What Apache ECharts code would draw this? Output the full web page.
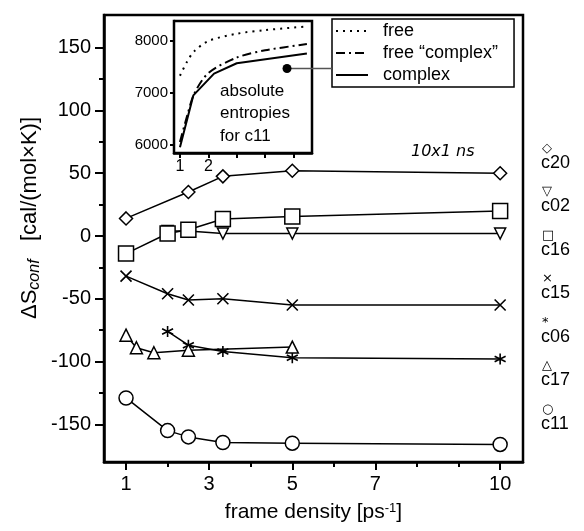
<!DOCTYPE html>
<html>
<head>
<meta charset="utf-8">
<script src="https://cdn.jsdelivr.net/npm/echarts@6/dist/echarts.min.js"></script>
<style>
html,body{margin:0;padding:0;background:#fff;}
#chart{width:584px;height:531px;}
</style>
</head>
<body>
<div id="chart"></div>
<script>
// ---- main plot data (frame density [ps^-1] vs ΔS_conf) ----
const c20X = [1, 2.5, 3.33, 5, 10];
const c20Y = [14, 35, 47.5, 52, 50];
const c02X = [2, 2.5, 3.33, 5, 10];
const c02Y = [4, 4, 2, 2, 2];
const c16X = [1, 2, 2.5, 3.33, 5, 10];
const c16Y = [-14, 2, 5, 13.5, 15.5, 20];
const c15X = [1, 2, 2.5, 3.33, 5, 10];
const c15Y = [-32, -46, -51, -50, -55, -55];
const c06X = [2, 2.5, 3.33, 5, 10];
const c06Y = [-76, -87, -92, -97, -98];
const c17X = [1, 1.25, 1.67, 2.5, 5];
const c17Y = [-79, -89, -93, -91, -88.5];
const c11X = [1, 2, 2.5, 3.33, 5, 10];
const c11Y = [-129, -155, -160, -164.5, -165, -166];

const xTickLabels = [1, 3, 5, 7, 10];
const xMinorTicks = [2, 4, 6, 8, 9];
const yTickLabels = [-150, -100, -50, 0, 50, 100, 150];
const yMinorTicks = [-125, -75, -25, 25, 75, 125];

// ---- inset: absolute entropies for c11 ----
const freeX = [1, 1.25, 1.5, 2, 3, 4, 5.47];
const freeY = [7330, 7600, 7800, 8000, 8140, 8210, 8280];
const freeCplxX = [1, 1.25, 1.5, 2, 3, 4, 5.47];
const freeCplxY = [6050, 6550, 6980, 7380, 7680, 7820, 7940];
const cplxX = [1, 1.47, 2.2, 3, 5.47];
const cplxY = [5950, 6950, 7370, 7570, 7760];
const insetYTicks = [6000, 7000, 8000];
const insetXTicks = [1, 2, 3, 4, 5];
const insetXLabels = [1, 2];

const seriesNames = ['c20', 'c02', 'c16', 'c15', 'c06', 'c17', 'c11'];
const seriesGlyphs = ['◇', '▽', '□', '×', '*', '△', '○'];

function pairs(xs, ys) { return xs.map((x, i) => [x, ys[i]]); }

const FONT = '"Liberation Sans", Arial, Helvetica, sans-serif';
const crossPath = 'path://M0,0L10,10M0,10L10,0';
const starPath = 'path://M5,0L5,10M0.67,2.5L9.33,7.5M0.67,7.5L9.33,2.5';

function mainSeries(name, xs, ys, symbol, size, rotate) {
  return {
    name: name, type: 'line', xAxisIndex: 0, yAxisIndex: 0,
    data: pairs(xs, ys), symbol: symbol, symbolSize: size, symbolRotate: rotate || 0,
    showAllSymbol: true, z: 3,
    lineStyle: { color: '#000', width: 1.5 },
    itemStyle: { color: '#fff', borderColor: '#000', borderWidth: 1.5 },
    emphasis: { disabled: true }, animation: false
  };
}
function lineOnly(series) {
  series.itemStyle = { color: 'transparent', borderColor: '#000', borderWidth: 1.6 };
  return series;
}

const chart = echarts.init(document.getElementById('chart'), null, { renderer: 'canvas' });

const option = {
  animation: false,
  backgroundColor: '#fff',
  textStyle: { fontFamily: FONT },
  grid: [
    { left: 104, right: 61, top: 15, bottom: 69, show: true, borderColor: '#000', borderWidth: 2.5, backgroundColor: 'transparent' },
    { left: 174, top: 21, width: 138, height: 132, show: true, borderColor: '#000', borderWidth: 2.5, backgroundColor: '#fff', z: 5 }
  ],
  xAxis: [
    { gridIndex: 0, type: 'value', min: 0.47, max: 10.55,
      name: '{a|frame density [ps}{s|-1}{a|]}', nameLocation: 'middle', nameGap: 40,
      nameTextStyle: { rich: { a: { fontSize: 21, fontFamily: FONT, color: '#000' }, s: { fontSize: 13, fontFamily: FONT, color: '#000', verticalAlign: 'top', padding: [0, 0, 8, 0] } } },
      axisLine: { onZero: false, lineStyle: { color: '#000', width: 2.5 } },
      axisTick: { customValues: xTickLabels, length: 8, lineStyle: { color: '#000', width: 2 } },
      axisLabel: { customValues: xTickLabels, fontSize: 20, color: '#000', margin: 12, fontFamily: FONT },
      splitLine: { show: false } },
    { gridIndex: 0, type: 'value', min: 0.47, max: 10.55, position: 'bottom',
      axisLine: { show: false, onZero: false },
      axisTick: { customValues: xMinorTicks, length: 5, lineStyle: { color: '#000', width: 2 } },
      axisLabel: { show: false }, splitLine: { show: false } },
    { gridIndex: 1, type: 'value', min: 0.79, max: 5.65,
      axisLine: { onZero: false, lineStyle: { color: '#000', width: 2.5 } },
      axisTick: { customValues: insetXTicks, length: 5, lineStyle: { color: '#000', width: 2 } },
      axisLabel: { customValues: insetXLabels, fontSize: 16, color: '#000', margin: 6, fontFamily: FONT },
      splitLine: { show: false } }
  ],
  yAxis: [
    { gridIndex: 0, type: 'value', min: -180, max: 176,
      axisLine: { onZero: false, lineStyle: { color: '#000', width: 2.5 } },
      axisTick: { customValues: yTickLabels, length: 9, lineStyle: { color: '#000', width: 2 } },
      axisLabel: { customValues: yTickLabels, fontSize: 20, color: '#000', margin: 13, fontFamily: FONT },
      splitLine: { show: false } },
    { gridIndex: 0, type: 'value', min: -180, max: 176, position: 'left',
      axisLine: { show: false, onZero: false },
      axisTick: { customValues: yMinorTicks, length: 5, lineStyle: { color: '#000', width: 2 } },
      axisLabel: { show: false }, splitLine: { show: false } },
    { gridIndex: 1, type: 'value', min: 5838, max: 8386,
      axisLine: { onZero: false, lineStyle: { color: '#000', width: 2.5 } },
      axisTick: { customValues: insetYTicks, length: 4, lineStyle: { color: '#000', width: 2 } },
      axisLabel: { customValues: insetYTicks, fontSize: 15, color: '#000', margin: 6, fontFamily: FONT,
        formatter: function (v) { return String(v); } },
      splitLine: { show: false } }
  ],
  legend: {
    data: ['free', 'free “complex”', 'complex'],
    left: 332, top: 19, orient: 'vertical', itemGap: 4, itemWidth: 32, itemHeight: 16,
    padding: [3, 16, 3, 3], borderColor: '#000', borderWidth: 1.5, backgroundColor: '#fff',
    itemStyle: { opacity: 0 },
    textStyle: { fontSize: 18, color: '#000', fontFamily: FONT, padding: [0, 0, 0, 10] },
    selectedMode: false, z: 10
  },
  series: [
    mainSeries('c20', c20X, c20Y, 'diamond', 13),
    mainSeries('c02', c02X, c02Y, 'triangle', 11, 180),
    mainSeries('c16', c16X, c16Y, 'rect', 15),
    lineOnly(mainSeries('c15', c15X, c15Y, crossPath, 11)),
    lineOnly(mainSeries('c06', c06X, c06Y, starPath, 11)),
    mainSeries('c17', c17X, c17Y, 'triangle', 12),
    mainSeries('c11', c11X, c11Y, 'circle', 14),
    { name: 'free', type: 'line', xAxisIndex: 2, yAxisIndex: 2, data: pairs(freeX, freeY), smooth: 0.3,
      symbol: 'none', z: 6, itemStyle: { color: '#000' }, lineStyle: { color: '#000', width: 2, type: [2, 5] } },
    { name: 'free “complex”', type: 'line', xAxisIndex: 2, yAxisIndex: 2, data: pairs(freeCplxX, freeCplxY), smooth: 0.3,
      symbol: 'none', z: 6, itemStyle: { color: '#000' }, lineStyle: { color: '#000', width: 2, type: [9, 4, 2, 4] } },
    { name: 'complex', type: 'line', xAxisIndex: 2, yAxisIndex: 2, data: pairs(cplxX, cplxY),
      symbol: 'none', z: 6, itemStyle: { color: '#000' }, lineStyle: { color: '#000', width: 2 } }
  ]
};
chart.setOption(option);

// annotations: dot + connector, inset caption, run label, axis title, right-side series labels
const dot = chart.convertToPixel({ xAxisIndex: 2, yAxisIndex: 2 }, [4.77, 7470]);
const graphics = [
  { type: 'line', shape: { x1: dot[0], y1: dot[1], x2: 332, y2: dot[1] }, style: { stroke: '#555', lineWidth: 1.5 }, z: 20 },
  { type: 'circle', shape: { cx: dot[0], cy: dot[1], r: 4.5 }, style: { fill: '#000' }, z: 21 },
  { type: 'text', left: 220, top: 80, z: 20,
    style: { text: 'absolute\nentropies\nfor c11', font: '17px ' + FONT, fill: '#000', lineHeight: 22.5 } },
  { type: 'text', left: 411, top: 144, z: 20,
    style: { text: '10x1 ns', font: 'italic 16px "DejaVu Sans", sans-serif', fill: '#000' } },
  { type: 'text', x: 30, y: 218, rotation: Math.PI / 2, z: 20,
    style: { text: '{a|ΔS}{s|conf}{a|   [cal/(mol×K)]}', align: 'center', verticalAlign: 'middle',
      rich: { a: { fontSize: 22, fontFamily: FONT, fill: '#000' },
              s: { fontSize: 16, fontStyle: 'italic', fontFamily: FONT, fill: '#000', verticalAlign: 'bottom', padding: [9, 0, 0, 0] } } } }
];
seriesNames.forEach(function (n, i) {
  const y = 142 + i * 43.5;
  graphics.push({ type: 'text', left: 541, top: y, z: 20,
    style: { text: '{m|' + seriesGlyphs[i] + '}\n{t|' + n + '}',
      rich: { m: { fontSize: 13, fontFamily: '"DejaVu Sans", sans-serif', lineHeight: 11, fill: '#000', padding: [0, 0, 0, 1] },
              t: { fontSize: 18, fontFamily: FONT, lineHeight: 18, fill: '#000' } } } });
});
chart.setOption({ graphic: graphics });
</script>
</body>
</html>
